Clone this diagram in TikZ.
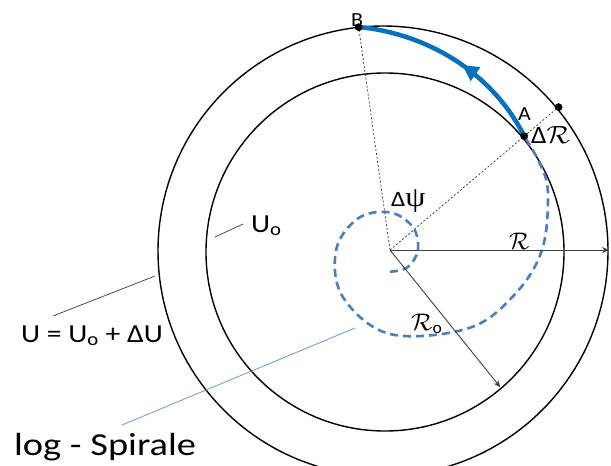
\RequirePackage{fix-cm}
\documentclass[tikz,border=0pt]{standalone}
\usepackage{fontspec}
\setmainfont{Carlito}
\newfontfamily\psifont{Liberation Serif}
\newcommand\widetext[2]{\scalebox{#1}[1]{#2}}
\usetikzlibrary{arrows.meta,decorations.markings,calc}
\definecolor{arcblue}{RGB}{0,112,192}
\definecolor{spiralblue}{RGB}{74,126,193}
\definecolor{leaderblue}{RGB}{120,160,210}
\begin{document}
\begin{tikzpicture}[x=1pt,y=-1pt,
  circ/.style={draw=black,line width=1.4pt},
  rayline/.style={draw=black!80,line width=0.7pt,dash pattern=on 2pt off 2pt},
  radarrow/.style={draw=black!75,line width=0.9pt,-{Stealth[length=7pt,width=6pt]}},
  leader/.style={draw=black!70,line width=0.8pt},
  bleader/.style={draw=leaderblue,line width=0.9pt},
  ptdot/.style={circle,fill=black,inner sep=0pt,minimum size=7.5pt},
  lab/.style={inner sep=0pt,anchor=base west},
  spiraldash/.style={draw=spiralblue,line width=2.6pt,dash pattern=on 8pt off 5pt},
  spiralarc/.style={draw=arcblue,line width=4.5pt,
    postaction={decorate},
    decoration={markings,mark=at position 0.46 with {\arrow{Triangle[length=16pt,width=16pt]}}}}
]
\useasboundingbox (0,0) rectangle (611,466);
% circles
\draw[circ] (383,251) circle[radius=225];
\draw[circ] (385,252) circle[radius=179];
% centre
\coordinate (O) at (390,250);
\begin{scope}[shift={(390,250)},y=1pt]
  \node[ptdot] (A) at (40.3:176) {};
  \node[ptdot] (B) at (98:225) {};
  \node[ptdot] (P) at (40.3:221) {};
  \coordinate (Roend) at (-51.2:176);
  \draw[spiraldash] plot[smooth,tension=0.6] coordinates {
    (270:21.7) (315:24.6) (360:27.9) (405:32.3) (450:37.6)
    (495:44.9) (540:53.9) (585:66.6) (630:84.0) (675:110.7)
    (700:132) (720:152) (740:168) (750:173) (760.3:176)};
  \draw[spiralarc] plot[domain=760.3:818,samples=40]
    (\x:{176*exp(0.245*(\x-760.3)/57.2958)});
\end{scope}
\coordinate (Rend) at (609,250);
% rays
\draw[rayline] (O) -- (B);
\draw[rayline] (O) -- (P);
\draw[radarrow] (O) -- (Rend);
\draw[radarrow] (O) -- (Roend);
% redraw dots on top
\node[ptdot] at (A) {};
\node[ptdot] at (B) {};
\node[ptdot] at (P) {};
% labels
\node[lab,font=\fontsize{20}{22}\selectfont] (Blab) at (351,26) {\widetext{1.1}{B}};
\node[lab,font=\fontsize{20}{22}\selectfont] (Alab) at (518,120) {\widetext{1.1}{A}};
\node[lab,font=\fontsize{25}{28}\selectfont] (dR) at (531,143) {\widetext{1.1}{Δ$\mathcal{R}$}};
\node[lab,font=\fontsize{24}{26}\selectfont] (Rlab) at (509,249) {$\mathcal{R}$};
\node[lab,font=\fontsize{24}{26}\selectfont] (Rolab) at (411,330) {\widetext{1.05}{$\mathcal{R}$\textsubscript{o}}};
\node[lab,font=\fontsize{22}{24}\selectfont] (psilab) at (391,206) {\widetext{1.15}{Δ{\psifont\fontsize{28}{30}\selectfont ψ}}};
\node[lab,font=\fontsize{26}{28}\selectfont] (Uolab) at (251,232) {\widetext{1.14}{U\textsubscript{o}}};
\node[lab,font=\fontsize{26}{28}\selectfont] (Ulab) at (21,342) {\widetext{1.14}{U = U\textsubscript{o} + ΔU}};
\node[lab,font=\fontsize{32}{34}\selectfont] (loglab) at (14,455) {\widetext{1.2}{log - Spirale}};
% leaders
\coordinate (Uo1) at (215,237);
\coordinate (Uo2) at (243,224);
\coordinate (U1) at (53,316);
\coordinate (U2) at (155,276);
\coordinate (L1) at (122,425);
\coordinate (L2) at (355,328);
\draw[leader] (Uo1) -- (Uo2);
\draw[leader] (U1) -- (U2);
\draw[bleader] (L1) -- (L2);
\end{tikzpicture}
\end{document}
